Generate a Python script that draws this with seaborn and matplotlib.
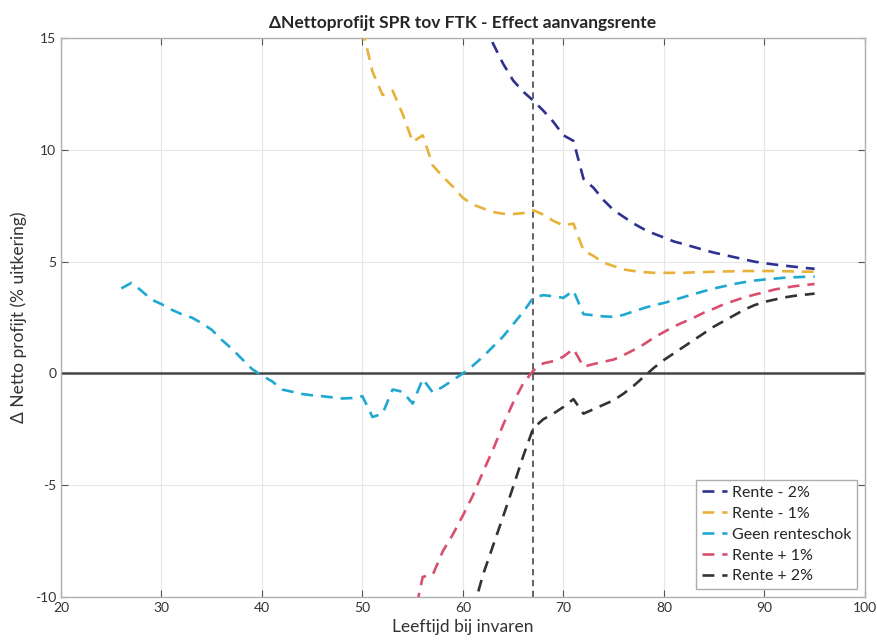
import matplotlib
matplotlib.use("Agg")
from matplotlib import pyplot as plt
import seaborn as sns
import pandas as pd


# leeftijd bij invaren per scenario + delta nettoprofijt (% uitkering)
leeftijd_geen = list(range(26, 96))
geen_renteschok = [3.8, 4.05, 3.7, 3.3, 3.1, 2.85, 2.65, 2.5, 2.25, 1.95,
                   1.5, 1.1, 0.65, 0.2, -0.1, -0.35, -0.72, -0.82, -0.92, -0.98,
                   -1.02, -1.07, -1.12, -1.1, -1.02, -1.95, -1.8, -0.72, -0.82, -1.35,
                   -0.25, -0.85, -0.6, -0.3, 0.0, 0.35, 0.75, 1.2, 1.65, 2.2,
                   2.75, 3.38, 3.5, 3.45, 3.38, 3.7, 2.65, 2.6, 2.55, 2.53,
                   2.62, 2.78, 2.92, 3.05, 3.15, 3.28, 3.42, 3.55, 3.68, 3.8,
                   3.9, 4.0, 4.08, 4.15, 4.2, 4.24, 4.28, 4.3, 4.32, 4.33]

leeftijd_min1 = list(range(50, 96))
rente_min1 = [15.4, 13.5, 12.45, 12.65, 11.6, 10.35, 10.65, 9.3, 8.8, 8.35,
              7.85, 7.55, 7.38, 7.22, 7.14, 7.13, 7.17, 7.3, 7.1, 6.82,
              6.62, 6.7, 5.5, 5.25, 4.95, 4.8, 4.65, 4.58, 4.53, 4.5,
              4.5, 4.5, 4.5, 4.52, 4.53, 4.55, 4.56, 4.57, 4.58, 4.58,
              4.58, 4.58, 4.57, 4.56, 4.55, 4.55]

leeftijd_min2 = list(range(62, 96))
rente_min2 = [15.6, 14.75, 13.85, 13.1, 12.6, 12.2, 11.75, 11.25, 10.65, 10.4,
              8.7, 8.3, 7.75, 7.3, 7.0, 6.7, 6.45, 6.25, 6.08, 5.9,
              5.78, 5.65, 5.52, 5.4, 5.3, 5.2, 5.1, 5.0, 4.93, 4.87,
              4.82, 4.77, 4.72, 4.68]

leeftijd_plus1 = list(range(55, 96))
rente_plus1 = [-11.2, -9.1, -9.0, -7.95, -7.2, -6.35, -5.45, -4.4, -3.4, -2.3,
               -1.3, -0.45, 0.12, 0.45, 0.55, 0.75, 1.1, 0.3, 0.42, 0.52,
               0.62, 0.82, 1.05, 1.3, 1.6, 1.85, 2.1, 2.3, 2.5, 2.72,
               2.9, 3.1, 3.25, 3.4, 3.52, 3.63, 3.75, 3.83, 3.9, 3.95, 4.0]

leeftijd_plus2 = list(range(61, 96))
rente_plus2 = [-10.6, -9.0, -7.7, -6.4, -5.07, -3.7, -2.45, -2.05, -1.8, -1.5,
               -1.15, -1.8, -1.6, -1.4, -1.2, -0.9, -0.55, -0.15, 0.25, 0.6,
               0.9, 1.2, 1.5, 1.8, 2.1, 2.35, 2.6, 2.85, 3.05, 3.2,
               3.3, 3.4, 3.47, 3.52, 3.57]

scenarios = ["Rente - 2%", "Rente - 1%", "Geen renteschok", "Rente + 1%", "Rente + 2%"]
kleuren = ["#2e3192", "#e8b23a", "#1ea8d2", "#d9506e", "#333333"]

LEEFTIJD_INVAREN = 67


sns.set_style("white")
plt.rcParams['font.family'] = ['Lato', 'DejaVu Sans']
plt.rcParams['axes.unicode_minus'] = False

df = pd.concat([
    pd.DataFrame({"leeftijd": leeftijd_min2, "profijt": rente_min2, "scenario": scenarios[0]}),
    pd.DataFrame({"leeftijd": leeftijd_min1, "profijt": rente_min1, "scenario": scenarios[1]}),
    pd.DataFrame({"leeftijd": leeftijd_geen, "profijt": geen_renteschok, "scenario": scenarios[2]}),
    pd.DataFrame({"leeftijd": leeftijd_plus1, "profijt": rente_plus1, "scenario": scenarios[3]}),
    pd.DataFrame({"leeftijd": leeftijd_plus2, "profijt": rente_plus2, "scenario": scenarios[4]}),
])

fig, ax = plt.subplots(figsize=(8.78, 6.41), dpi=100)
fig.subplots_adjust(left=0.0695, right=0.985, top=0.9407, bottom=0.0686)

ax.axhline(0, color="#444444", lw=1.8, zorder=1)
ax.axvline(LEEFTIJD_INVAREN, color="#555555", lw=1.3, ls=(0, (3.5, 2.5)), zorder=1)

for naam, kleur in zip(scenarios, kleuren):
    sub = df[df["scenario"] == naam]
    sns.lineplot(data=sub, x="leeftijd", y="profijt", ax=ax, color=kleur,
                 label=naam, lw=1.9, linestyle=(0, (4.5, 3)), zorder=3)

ax.set_xlim(20, 100)
ax.set_ylim(-10, 15)
ax.set_xticks(range(20, 101, 10))
ax.set_yticks([-10, -5, 0, 5, 10, 15])
ax.grid(True, color="#e6e6e6", lw=0.8)
ax.set_axisbelow(True)
for s in ax.spines.values():
    s.set_color("#b0b0b0")
    s.set_linewidth(1.0)
ax.tick_params(direction="in", length=5, color="#555555", labelcolor="#333333",
               labelsize=10, top=True, right=True, bottom=True, left=True)

ax.set_title("ΔNettoprofijt SPR tov FTK - Effect aanvangsrente",
             fontsize=12.5, fontweight="bold", pad=7)
ax.set_xlabel("Leeftijd bij invaren", fontsize=12.5, color="#333333", labelpad=4)
ax.set_ylabel("Δ Netto profijt (% uitkering)", fontsize=12.5, color="#333333", labelpad=6)

leg = ax.legend(loc="lower right", fontsize=11.5, frameon=True, fancybox=False,
                borderpad=0.35, labelspacing=0.42, handlelength=1.6, handletextpad=0.3,
                borderaxespad=0.5)
leg.get_frame().set_edgecolor("#999999")
leg.get_frame().set_linewidth(1.0)

fig.savefig("out.png", dpi=100)
